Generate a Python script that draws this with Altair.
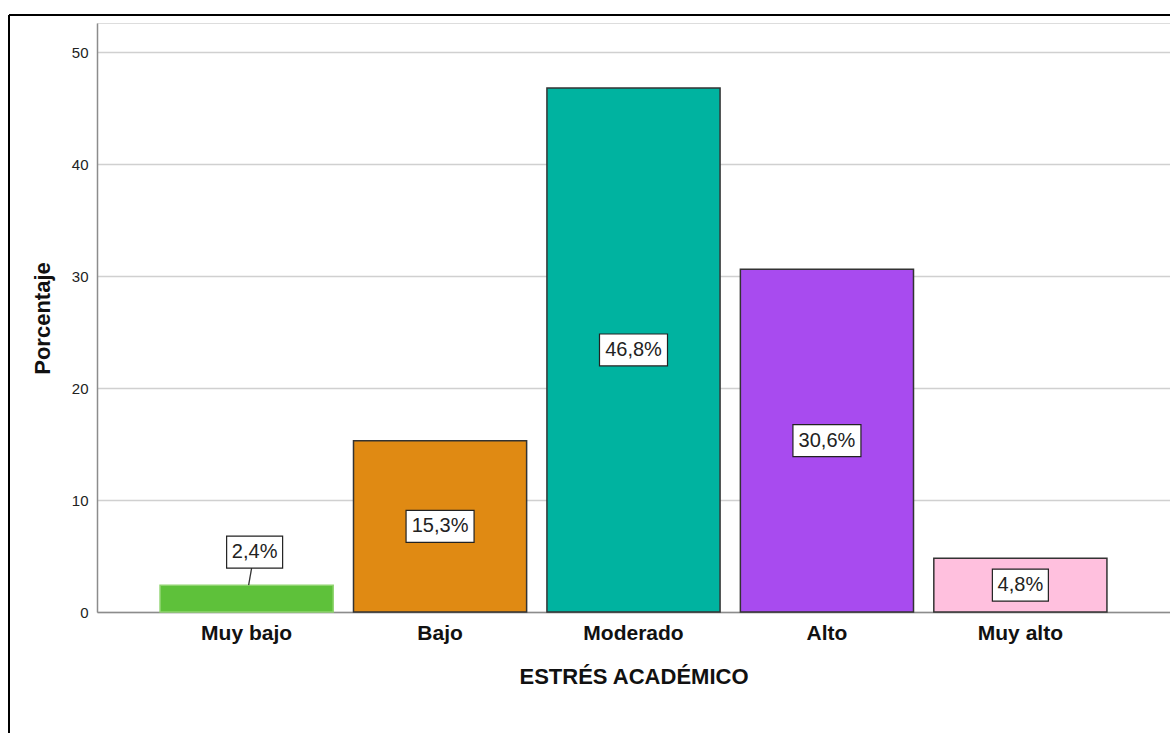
import altair as alt
import pandas as pd

categories = ["Muy bajo", "Bajo", "Moderado", "Alto", "Muy alto"]
values = [2.4, 15.3, 46.8, 30.6, 4.8]
labels = ["2,4%", "15,3%", "46,8%", "30,6%", "4,8%"]
bar_colors = ["#5EC13A", "#E08A13", "#00B3A0", "#A84BEF", "#FFC0DE"]
bar_strokes = ["#8fd46f", "#333333", "#333333", "#333333", "#333333"]
y_ticks = [0, 10, 20, 30, 40, 50]

df = pd.DataFrame({"cat": categories, "value": values, "label": labels})

W, H = 1073, 589

x_enc = alt.X(
    "cat:N", sort=categories, title="ESTRÉS ACADÉMICO",
    scale=alt.Scale(paddingInner=0.105, paddingOuter=0.326),
    axis=alt.Axis(labelFont="Liberation Sans", labelFontWeight="bold", labelFontSize=21,
                  labelColor="#111111", labelPadding=10, labelAngle=0, ticks=False,
                  domainColor="#8c8c8c", domainWidth=1.5,
                  titleFont="Liberation Sans", titleFontWeight="bold", titleFontSize=22,
                  titleColor="#111111", titleY=64, titleBaseline="middle"),
)
y_scale = alt.Scale(domain=[0, 52.6], nice=False)

bars = alt.Chart(df).mark_bar(strokeWidth=1.5).encode(
    x=x_enc,
    y=alt.Y("value:Q", scale=y_scale, title="Porcentaje",
            axis=alt.Axis(values=y_ticks, tickSize=0, labelPadding=9,
                          labelFont="Liberation Sans", labelFontSize=15, labelColor="#222222",
                          domainColor="#8c8c8c", domainWidth=1.5,
                          gridColor="#d0d0d0", gridWidth=1.5,
                          titleFont="Liberation Sans", titleFontWeight="bold", titleFontSize=22,
                          titleColor="#111111", titleX=-55, titleY=295,
                          titleAlign="center", titleBaseline="middle")),
    fill=alt.Fill("cat:N", sort=categories, scale=alt.Scale(domain=categories, range=bar_colors), legend=None),
    stroke=alt.Stroke("cat:N", sort=categories, scale=alt.Scale(domain=categories, range=bar_strokes), legend=None),
)

inside = alt.Chart(df).transform_filter("datum.value >= 3").transform_calculate(mid="datum.value / 2")
outside = alt.Chart(df).transform_filter("datum.value < 3")

box4 = "M-1,-0.571L1,-0.571L1,0.571L-1,0.571Z"
box5 = "M-1,-0.47L1,-0.47L1,0.47L-1,0.47Z"

in_box5 = inside.transform_filter("length(datum.label) > 4").mark_point(
    shape=box5, size=68 * 68, filled=True, fill="white", stroke="#222222", strokeWidth=1.2, opacity=1
).encode(x=alt.X("cat:N", sort=categories), y=alt.Y("mid:Q", scale=y_scale))
in_box4 = inside.transform_filter("length(datum.label) <= 4").mark_point(
    shape=box4, size=56 * 56, filled=True, fill="white", stroke="#222222", strokeWidth=1.2, opacity=1
).encode(x=alt.X("cat:N", sort=categories), y=alt.Y("mid:Q", scale=y_scale))
in_text = inside.mark_text(font="Liberation Sans", fontSize=20, color="#222222", baseline="middle").encode(
    x=alt.X("cat:N", sort=categories), y=alt.Y("mid:Q", scale=y_scale), text="label:N")

out_line = outside.mark_rule(color="#333333", strokeWidth=1.3, xOffset=2, x2Offset=5, y2Offset=-17).encode(
    x=alt.X("cat:N", sort=categories), x2="cat:N", y=alt.Y("value:Q", scale=y_scale), y2="value:Q")
out_box = outside.mark_point(
    shape=box4, size=56 * 56, filled=True, fill="white", stroke="#222222", strokeWidth=1.2, opacity=1,
    xOffset=8, yOffset=-33
).encode(x=alt.X("cat:N", sort=categories), y=alt.Y("value:Q", scale=y_scale))
out_text = outside.mark_text(font="Liberation Sans", fontSize=20, color="#222222", baseline="middle",
                             dx=8, dy=-33).encode(
    x=alt.X("cat:N", sort=categories), y=alt.Y("value:Q", scale=y_scale), text="label:N")

frame_v = alt.Chart(df).mark_rule(color="#000000", strokeWidth=2).encode(
    x=alt.value(-88), y=alt.value(-8), y2=alt.value(H + 200))
frame_h = alt.Chart(df).mark_rule(color="#000000", strokeWidth=2).encode(
    x=alt.value(-88), x2=alt.value(W + 50), y=alt.value(-8))

chart = alt.layer(bars, out_line, in_box5, in_box4, in_text, out_box, out_text, frame_v, frame_h).properties(
    width=W, height=H,
    autosize=alt.AutoSizeParams(type="none"),
    padding={"left": 97, "top": 23, "right": 0, "bottom": 121},
).configure_view(stroke=None).configure(background="white")

chart.save("out.html", embed_options={"renderer": "svg", "actions": False})
